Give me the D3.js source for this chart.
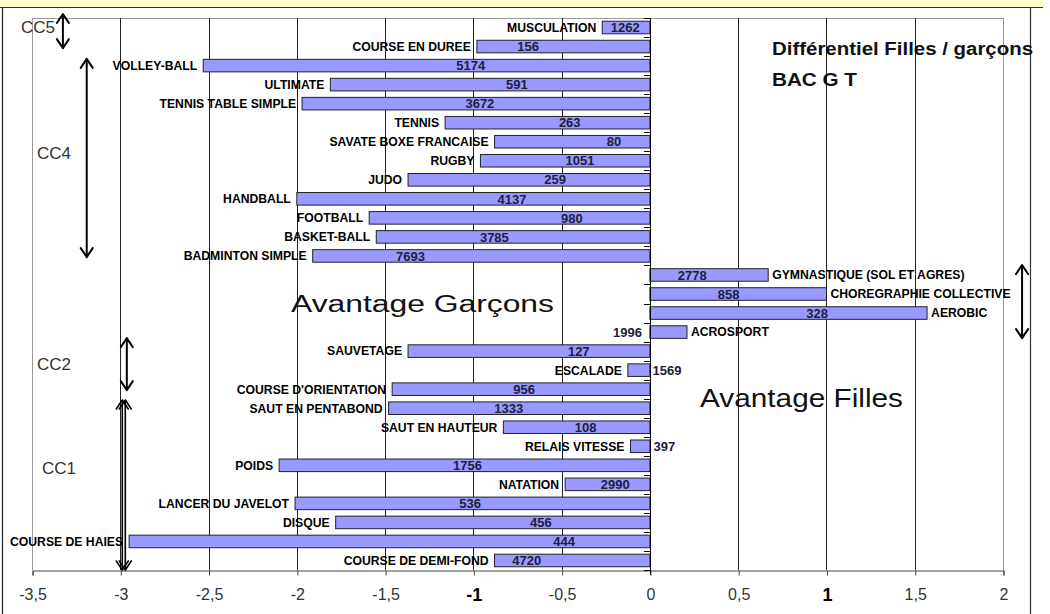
<!DOCTYPE html>
<html><head><meta charset="utf-8">
<script src="https://cdn.jsdelivr.net/npm/d3@7"></script>
<style>
html,body{margin:0;padding:0;background:#fff;}
svg{display:block;font-family:"Liberation Sans",Arial,sans-serif;}
</style></head><body>
<svg id="chart" width="1050" height="614"></svg>
<script>
// ---- data ----
const categories = ["MUSCULATION","COURSE EN DUREE","VOLLEY-BALL","ULTIMATE","TENNIS TABLE SIMPLE","TENNIS","SAVATE BOXE FRANCAISE","RUGBY","JUDO","HANDBALL","FOOTBALL","BASKET-BALL","BADMINTON SIMPLE","GYMNASTIQUE (SOL ET AGRES)","CHOREGRAPHIE COLLECTIVE","AEROBIC","ACROSPORT","SAUVETAGE","ESCALADE","COURSE D'ORIENTATION","SAUT EN PENTABOND","SAUT EN HAUTEUR","RELAIS VITESSE","POIDS","NATATION","LANCER DU JAVELOT","DISQUE","COURSE DE HAIES","COURSE DE DEMI-FOND"];
const values = [-0.27,-0.98,-2.53,-1.81,-1.97,-1.16,-0.88,-0.96,-1.37,-2.00,-1.59,-1.55,-1.91,0.67,1.00,1.57,0.21,-1.37,-0.125,-1.46,-1.48,-0.83,-0.11,-2.10,-0.48,-2.01,-1.78,-2.95,-0.88];
const counts = [1262,156,5174,591,3672,263,80,1051,259,4137,980,3785,7693,2778,858,328,1996,127,1569,956,1333,108,397,1756,2990,536,456,444,4720];
// where each count label sits along the value axis
const countLabelAt = [-0.14,-0.69,-1.015,-0.753,-0.963,-0.454,-0.203,-0.396,-0.537,-0.781,-0.442,-0.881,-1.356,0.24,0.446,0.947,-0.127,-0.403,0.097,-0.712,-0.800,-0.364,0.082,-1.033,-0.196,-1.018,-0.618,-0.486,-0.698];
const tickValues = [-3.5,-3,-2.5,-2,-1.5,-1,-0.5,0,0.5,1,1.5,2];
const tickLabels = ["-3,5","-3","-2,5","-2","-1,5","-1","-0,5","0","0,5","1","1,5","2"];
const boldTicks = [-1,1];
const titleLines = ["Différentiel Filles / garçons","BAC G T"];
const zoneLabels = ["Avantage Garçons","Avantage Filles"];
const groupNames = ["CC5","CC4","CC2","CC1"];

// ---- layout ----
const W = 1050, H = 614;
const plot = {left:32, right:1003, top:18, bottom:570};
const svg = d3.select("#chart");

const x = d3.scaleLinear().domain([-3.5,2]).range([plot.left, plot.right]);
const y = d3.scaleBand().domain(categories).range([plot.top, plot.bottom]).paddingInner(0.34).paddingOuter(0.17);
const rowY = d3.scaleLinear().domain([0, categories.length]).range([plot.top, plot.bottom]);
const px = v => Math.round(x(v)) + 0.5;

// frame
svg.append("rect").attr("x",0).attr("y",0).attr("width",1043).attr("height",7).attr("fill","#FFFFCC");
svg.append("line").attr("x1",0).attr("x2",1043).attr("y1",7.5).attr("y2",7.5).attr("stroke","#333");
svg.append("line").attr("x1",2.5).attr("x2",2.5).attr("y1",7).attr("y2",H).attr("stroke","#222").attr("stroke-width",1.2);
svg.append("line").attr("x1",1030.5).attr("x2",1030.5).attr("y1",7).attr("y2",H).attr("stroke","#333").attr("stroke-width",1.2);

// plot top border
svg.append("line").attr("x1",plot.left).attr("x2",plot.right).attr("y1",plot.top+0.5).attr("y2",plot.top+0.5).attr("stroke","#999");

// grid
svg.append("g").selectAll("line").data(tickValues).join("line")
  .attr("x1",d=>px(d)).attr("x2",d=>px(d))
  .attr("y1",plot.top).attr("y2",plot.bottom)
  .attr("stroke",d=>(d===-3.5||d===2)?"#9a9a9a":"#222")
  .attr("stroke-width",1);

// bottom axis
const ax = svg.append("g").attr("transform",`translate(0.5,${plot.bottom+0.5})`)
  .call(d3.axisBottom(x).tickValues(tickValues).tickSize(5).tickFormat((d,i)=>tickLabels[i]));
ax.select(".domain").attr("stroke","#444");
ax.selectAll(".tick line").attr("stroke","#444");
ax.selectAll(".tick text")
  .attr("y",18).attr("dy","0.71em")
  .attr("font-family","'Liberation Sans',Arial,sans-serif")
  .attr("font-size",d=>boldTicks.includes(d)?18:16)
  .attr("font-weight",d=>boldTicks.includes(d)?"bold":"normal")
  .attr("fill",d=>boldTicks.includes(d)?"#000":"#333");

// bars
svg.append("g").selectAll("rect").data(categories).join("rect")
  .attr("x",(d,i)=>Math.min(x(values[i]),x(0)))
  .attr("width",(d,i)=>Math.abs(x(values[i])-x(0)))
  .attr("y",d=>y(d))
  .attr("height",y.bandwidth())
  .attr("fill","#9999FF").attr("stroke","#222").attr("stroke-width",1);

// zero line + category ticks
svg.append("line").attr("x1",px(0)).attr("x2",px(0)).attr("y1",plot.top).attr("y2",plot.bottom+5).attr("stroke","#000");
svg.append("g").selectAll("line").data(d3.range(categories.length+1)).join("line")
  .attr("x1",x(0)-6).attr("x2",x(0))
  .attr("y1",d=>Math.round(rowY(d))+0.5).attr("y2",d=>Math.round(rowY(d))+0.5)
  .attr("stroke","#000");

// category labels
svg.append("g").selectAll("text").data(categories).join("text")
  .attr("x",(d,i)=>values[i]<0? x(values[i])-6 : x(values[i])+4)
  .attr("y",d=>y(d)+y.bandwidth()/2)
  .attr("dy","0.36em")
  .attr("text-anchor",(d,i)=>values[i]<0?"end":"start")
  .attr("font-size",12.2).attr("font-weight","bold").attr("fill","#000")
  .text(d=>d);

// count labels
svg.append("g").selectAll("text").data(categories).join("text")
  .attr("x",(d,i)=>x(countLabelAt[i]))
  .attr("y",d=>y(d)+y.bandwidth()/2)
  .attr("dy","0.36em")
  .attr("text-anchor","middle")
  .attr("font-size",13).attr("font-weight","bold").attr("fill","#20203c")
  .text((d,i)=>counts[i]);

// title
svg.append("text").attr("x",772).attr("y",55).attr("font-size",17.5).attr("font-weight","bold").attr("fill","#111")
  .attr("textLength",261).attr("lengthAdjust","spacingAndGlyphs").text(titleLines[0]);
svg.append("text").attr("x",772).attr("y",86).attr("font-size",17.5).attr("font-weight","bold").attr("fill","#111")
  .attr("textLength",85).attr("lengthAdjust","spacingAndGlyphs").text(titleLines[1]);

// zone labels
svg.append("text").attr("x",291).attr("y",312).attr("font-size",23.5).attr("fill","#111")
  .attr("textLength",263).attr("lengthAdjust","spacingAndGlyphs").text(zoneLabels[0]);
svg.append("text").attr("x",700).attr("y",407).attr("font-size",25).attr("fill","#111")
  .attr("textLength",203).attr("lengthAdjust","spacingAndGlyphs").text(zoneLabels[1]);

// group labels
const groupPos = [[21,33],[37,159],[37,370],[42,474]];
svg.append("g").selectAll("text").data(groupNames).join("text")
  .attr("x",(d,i)=>groupPos[i][0]).attr("y",(d,i)=>groupPos[i][1])
  .attr("font-size",17).attr("fill","#333").text(d=>d);

// arrows (x in value units, y in row units)
function arrow(xv, r1, r2, dx, sw){
  const xc = x(xv) + (dx||0), y1 = rowY(r1), y2 = rowY(r2);
  const g = svg.append("g").attr("stroke","#000").attr("fill","none")
    .attr("stroke-width",sw||2).attr("stroke-linecap","round").attr("stroke-linejoin","round");
  g.append("line").attr("x1",xc).attr("x2",xc).attr("y1",y1+1).attr("y2",y2-1);
  g.append("path").attr("d",`M${xc-6},${y1+9}L${xc},${y1}L${xc+6},${y1+9}`);
  g.append("path").attr("d",`M${xc-6},${y2-9}L${xc},${y2}L${xc+6},${y2-9}`);
}
arrow(-3.325,-0.21,1.58);
arrow(-3.19,2.15,12.56);
arrow(2.108,12.98,16.82);
arrow(-2.963,16.82,19.55);
arrow(-2.98,20.07,29.0,-1.5,1.6);
arrow(-2.98,20.07,29.0,1.5,1.6);
</script>
</body></html>
